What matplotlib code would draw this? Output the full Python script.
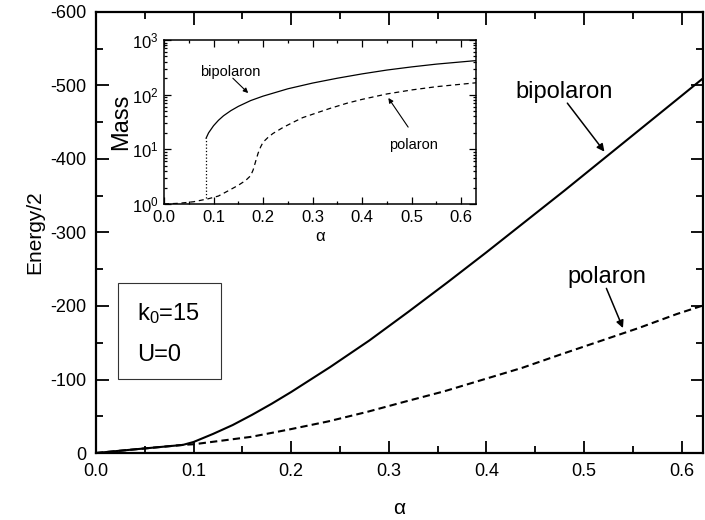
import matplotlib
matplotlib.use("Agg")
import matplotlib.pyplot as plt
from matplotlib.patches import Rectangle
from matplotlib.ticker import MultipleLocator, LogLocator, FormatStrFormatter, NullFormatter

plt.rcParams['font.family'] = ['Liberation Sans', 'DejaVu Sans']
plt.rcParams['mathtext.default'] = 'regular'
plt.rcParams['axes.unicode_minus'] = False

# ground state energy per particle vs coupling (k0=15, U=0)
alpha_bi = [0.0, 0.04, 0.089, 0.1, 0.12, 0.14, 0.16, 0.18, 0.2, 0.24, 0.28, 0.32, 0.36, 0.40,
            0.44, 0.48, 0.52, 0.56, 0.6, 0.625]
energy_bi = [0, -5, -11, -15, -26, -38, -52, -67, -83, -117, -153, -192, -232, -273,
             -315, -357, -400, -443, -486, -513]
alpha_pol = [0.0, 0.04, 0.089, 0.101, 0.13, 0.159, 0.198, 0.238, 0.278, 0.317, 0.357, 0.397,
             0.437, 0.476, 0.516, 0.556, 0.595, 0.625]
energy_pol = [0, -5, -11, -12, -17, -22, -32, -43, -56, -70, -84, -100,
              -116, -134, -152, -170, -189, -202]

# effective mass (inset)
alpha_mass_bi = [0.085, 0.09, 0.1, 0.11, 0.12, 0.135, 0.15, 0.175, 0.2, 0.25, 0.3, 0.35,
                 0.4, 0.45, 0.5, 0.55, 0.63]
mass_bi = [16, 20, 27, 34, 41, 51, 61, 78, 94, 128, 163, 200, 240, 282, 322, 362, 420]
alpha_jump = [0.085, 0.085]
mass_jump = [1.3, 16]
alpha_mass_pol = [0.0, 0.03, 0.06, 0.09, 0.11, 0.13, 0.15, 0.165, 0.175, 0.18, 0.185, 0.19,
                  0.195, 0.2, 0.21, 0.22, 0.24, 0.26, 0.28, 0.31, 0.335, 0.37, 0.4, 0.45,
                  0.5, 0.55, 0.63]
mass_pol = [1.0, 1.03, 1.1, 1.25, 1.4, 1.75, 2.2, 2.7, 3.3, 4.2, 6, 8.5,
            11, 13.5, 16.5, 19.5, 25, 31, 38, 47, 56, 70, 82, 103,
            122, 140, 165]

fig = plt.figure(figsize=(7.05, 5.2), dpi=100)
ax = fig.add_axes([96/705, 67/520, 607/705, 441/520])

ax.plot(alpha_bi, energy_bi, color='k', lw=1.5)
ax.plot(alpha_pol, energy_pol, color='k', lw=1.5, dashes=(3.5, 2))
ax.set_xlim(0, 0.622)
ax.set_ylim(0, -600)
ax.xaxis.set_major_locator(MultipleLocator(0.1))
ax.xaxis.set_minor_locator(MultipleLocator(0.05))
ax.yaxis.set_major_locator(MultipleLocator(100))
ax.yaxis.set_minor_locator(MultipleLocator(50))
ax.xaxis.set_major_formatter(FormatStrFormatter('%.1f'))
ax.tick_params(which='both', direction='in', top=True, right=True, labelsize=13, width=1.3)
ax.tick_params(which='major', length=9, pad=7)
ax.tick_params(which='minor', length=5)
for s in ax.spines.values():
    s.set_linewidth(1.6)
ax.set_xlabel('α', fontsize=15, labelpad=14)
ax.set_ylabel('Energy/2', fontsize=15, labelpad=4.5)

arrow = dict(arrowstyle='-|>', color='k', lw=1.1, mutation_scale=11, shrinkA=0, shrinkB=0)
ax.text(0.480, -491, 'bipolaron', fontsize=17, ha='center', va='center')
ax.annotate('', xy=(0.521, -410), xytext=(0.483, -476), arrowprops=arrow)
ax.text(0.524, -239, 'polaron', fontsize=17, ha='center', va='center')
ax.annotate('', xy=(0.540, -170), xytext=(0.523, -224), arrowprops=arrow)

ax.add_patch(Rectangle((0.036, 0.168), 0.170, 0.217, transform=ax.transAxes,
                       fill=False, lw=0.8, edgecolor='#333333'))
ax.text(0.068, 0.317, 'k$_0$=15', transform=ax.transAxes, fontsize=17, va='center')
ax.text(0.068, 0.222, 'U=0', transform=ax.transAxes, fontsize=17, va='center')

# inset: effective mass
ins = fig.add_axes([164/705, 316/520, 312/705, 164/520])
ins.plot(alpha_mass_bi, mass_bi, color='k', lw=0.9)
ins.plot(alpha_jump, mass_jump, color='k', lw=0.9, ls=':')
ins.plot(alpha_mass_pol, mass_pol, color='k', lw=0.9, dashes=(4, 3))
ins.set_yscale('log')
ins.set_xlim(0, 0.63)
ins.set_ylim(1, 1000)
ins.xaxis.set_major_locator(MultipleLocator(0.1))
ins.xaxis.set_minor_locator(MultipleLocator(0.05))
ins.xaxis.set_major_formatter(FormatStrFormatter('%.1f'))
ins.yaxis.set_major_locator(LogLocator(base=10, numticks=5))
ins.yaxis.set_minor_locator(LogLocator(base=10, subs=range(2, 10), numticks=10))
ins.yaxis.set_minor_formatter(NullFormatter())
ins.tick_params(which='both', direction='in', top=True, right=True, labelsize=12, width=0.9)
ins.tick_params(which='major', length=5)
ins.tick_params(which='minor', length=2.5)
ins.tick_params(axis='x', pad=4)
ins.tick_params(axis='y', pad=4)
for s in ins.spines.values():
    s.set_linewidth(1.1)
ins.set_xlabel('α', fontsize=12, labelpad=3)
ins.set_ylabel('Mass', fontsize=17, labelpad=0)

small_arrow = dict(arrowstyle='-|>', color='k', lw=0.8, mutation_scale=7, shrinkA=0, shrinkB=0)
ins.text(0.133, 258, 'bipolaron', fontsize=10.5, ha='center', va='center')
ins.annotate('', xy=(0.170, 107), xytext=(0.139, 200), arrowprops=small_arrow)
ins.text(0.503, 12, 'polaron', fontsize=10.5, ha='center', va='center')
ins.annotate('', xy=(0.453, 87), xytext=(0.493, 25.5), arrowprops=small_arrow)

fig.savefig('out.png', dpi=100)
